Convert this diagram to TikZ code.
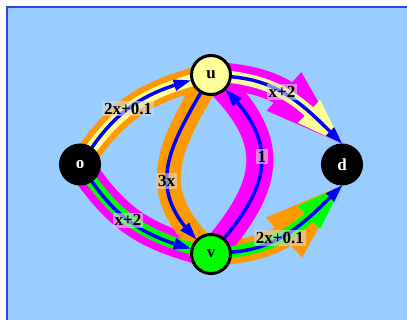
\documentclass[tikz,border=0pt]{standalone}
\usepackage{fontspec}
\setmainfont{Liberation Serif}
\usetikzlibrary{arrows.meta, bending}
\definecolor{skyblue}{HTML}{99CCFF}
\definecolor{frameblue}{HTML}{3344EE}
\definecolor{flowyellow}{HTML}{FFFF99}
\definecolor{floworange}{HTML}{FF9900}
\definecolor{flowmagenta}{HTML}{FF00FF}
\definecolor{flowgreen}{HTML}{00FF00}
\definecolor{linkblue}{HTML}{0000FF}
\pgfdeclarelayer{front}
\pgfsetlayers{main,front}

\begin{document}
\begin{tikzpicture}[x=1pt,y=1pt,
  vertex/.style={circle, draw=black, line width=3pt, minimum size=39pt, inner sep=0pt,
    font=\fontsize{17}{17}\selectfont\bfseries},
  wideorange/.style={floworange, line width=24pt, shorten <=-12pt},
  widemagenta/.style={flowmagenta, line width=27pt, shorten <=-12pt},
  thinyellow/.style={flowyellow, line width=12pt, shorten <=-12pt},
  thingreen/.style={flowgreen, line width=12pt, shorten <=-12pt},
  tonode/.style={shorten >=-12pt},
  bighead/.style={-{Triangle[length=78pt,width=#1,line width=0pt]}},
  midhead/.style={-{Triangle[length=46pt,width=32pt,line width=0pt]}},
  link/.style={linkblue, line width=3.5pt, -{Triangle[length=17pt,width=12pt,line width=0pt]}},
  cost/.style={fill=lightgray!60!white, fill opacity=0.6, text opacity=1, text=black, inner sep=2pt,
    font=\fontsize{17}{17}\selectfont\bfseries}]
\useasboundingbox (0,0) rectangle (407,-320);
\fill[skyblue] (7,-7) rectangle (407,-320);
\draw[frameblue, line width=1.5pt] (7,-320) -- (7,-7) -- (407,-7);

\begin{pgfonlayer}{front}
\node[vertex, fill=black, text=white] (o) at (80,-164.5) {o};
\node[vertex, fill=flowyellow] (u) at (211,-75) {u};
\node[vertex, fill=flowgreen] (v) at (211,-254) {v};
\node[vertex, fill=black, text=white] (d) at (342,-164.5) {d};
\end{pgfonlayer}

\draw[wideorange, tonode] (o) to[out=55,in=195] (u);
\draw[widemagenta, bighead=52pt] (u) to[out=-5,in=135] (d.north);
\draw[widemagenta, tonode] (o) to[out=-55,in=165] (v);
\draw[wideorange, bighead=54pt] (v) to[out=5,in=-135] (d.south);
\draw[wideorange, tonode] (u) to[out=-120,in=135,looseness=1.2] (v);
\draw[widemagenta, tonode] (v) to[out=50,in=-45,looseness=1.25] (u);

\draw[thinyellow, tonode] (o) to[out=55,in=195] (u);
\draw[thinyellow, midhead] (u) to[out=-5,in=135] (d.north);
\draw[thingreen, tonode] (o) to[out=-55,in=165] (v);
\draw[thingreen, midhead] (v) to[out=5,in=-135] (d.south);

\draw[link] (o) to[out=55,in=195] node[cost, pos=0.43] (ou) {2x+0.1} (u);
\draw[link] (u) to[out=-5,in=135] node[cost, pos=0.4] (ud) {x+2} (d.north);
\draw[link] (o) to[out=-55,in=165] node[cost, pos=0.43] (ov) {x+2} (v);
\draw[link] (v) to[out=5,in=-135] node[cost, pos=0.38] (vd) {2x+0.1} (d.south);
\draw[link] (u) to[out=-120,in=135,looseness=1.2] node[cost, pos=0.58] (uv) {3x} (v);
\draw[link] (v) to[out=50,in=-45,looseness=1.25] node[cost, pos=0.54] (vu) {1} (u);
\end{tikzpicture}
\end{document}
